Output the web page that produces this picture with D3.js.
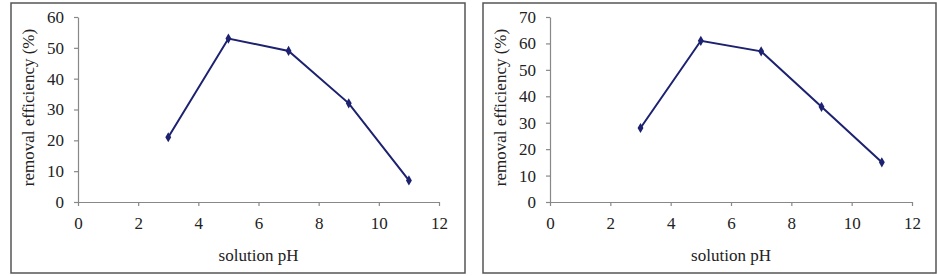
<html>
    <body style="margin:0;background:#fff">
        <script src="https://d3js.org/d3.v7.min.js"></script>

        <div id="my_dataviz"></div>

        <script>
            // data
            var phValues = [3, 5, 7, 9, 11];
            var efficiencyA = [21, 53, 49, 32, 7];
            var efficiencyB = [28, 61, 57, 36, 15];
            var xTicks = [0, 2, 4, 6, 8, 10, 12];
            var yTicksA = [0, 10, 20, 30, 40, 50, 60];
            var yTicksB = [0, 10, 20, 30, 40, 50, 60, 70];

            var serif = "'Liberation Serif', 'DejaVu Serif', serif";

            var svg = d3.select("#my_dataviz")
              .append("svg")
                .attr("width", 937)
                .attr("height", 276);

            var panels = [
              {box: [11, 3, 454, 270], plot: [78, 17, 361, 185], values: efficiencyA, yMax: 60, yTicks: yTicksA},
              {box: [483, 3, 453, 270], plot: [550, 17, 362, 185], values: efficiencyB, yMax: 70, yTicks: yTicksB}
            ];

            panels.forEach(function(p) {
              // frame around each panel
              svg.append("rect")
                .attr("x", p.box[0]).attr("y", p.box[1])
                .attr("width", p.box[2]).attr("height", p.box[3])
                .attr("fill", "none")
                .attr("stroke", "#555")
                .attr("stroke-width", 1.5);

              var g = svg.append("g")
                .attr("transform", "translate(" + p.plot[0] + "," + p.plot[1] + ")");
              var width = p.plot[2], height = p.plot[3];

              var x = d3.scaleLinear().domain([0, 12]).range([0, width]);
              var y = d3.scaleLinear().domain([0, p.yMax]).range([height, 0]);

              // X axis
              var xAxis = g.append("g")
                .attr("transform", "translate(0," + height + ")")
                .call(d3.axisBottom(x).tickValues(xTicks).tickSize(4).tickPadding(11).tickSizeOuter(0));
              // Y axis
              var yAxis = g.append("g")
                .call(d3.axisLeft(y).tickValues(p.yTicks).tickSize(4).tickPadding(10).tickSizeOuter(0));

              [xAxis, yAxis].forEach(function(a) {
                a.attr("font-family", serif).attr("font-size", 17);
                a.select(".domain").attr("stroke", "#888").attr("stroke-width", 1.2);
                a.selectAll(".tick line").attr("stroke", "#888").attr("stroke-width", 1.2);
                a.selectAll(".tick text").attr("fill", "#222");
              });

              // axis titles
              g.append("text")
                .attr("x", width / 2)
                .attr("y", height + 59)
                .attr("text-anchor", "middle")
                .attr("fill", "#222")
                .attr("font-family", serif)
                .attr("font-size", 17)
                .text("solution pH");

              g.append("text")
                .attr("transform", "translate(-44," + (height / 2 - 2) + ")rotate(-90)")
                .attr("text-anchor", "middle")
                .attr("fill", "#222")
                .attr("font-family", serif)
                .attr("font-size", 17)
                .text("removal efficiency (%)");

              var pts = phValues.map(function(v, i) { return [v, p.values[i]]; });

              // line
              g.append("path")
                .datum(pts)
                .attr("fill", "none")
                .attr("stroke", "#1c2170")
                .attr("stroke-width", 2)
                .attr("d", d3.line()
                  .x(function(d) { return x(d[0]); })
                  .y(function(d) { return y(d[1]); }));

              // diamond markers
              g.selectAll("mymarker")
                .data(pts)
                .enter()
                .append("path")
                  .attr("transform", function(d) { return "translate(" + x(d[0]) + "," + y(d[1]) + ")"; })
                  .attr("d", d3.symbol().type(d3.symbolDiamond).size(30))
                  .attr("fill", "#1c2170");
            });
        </script>
    </body>
</html>
